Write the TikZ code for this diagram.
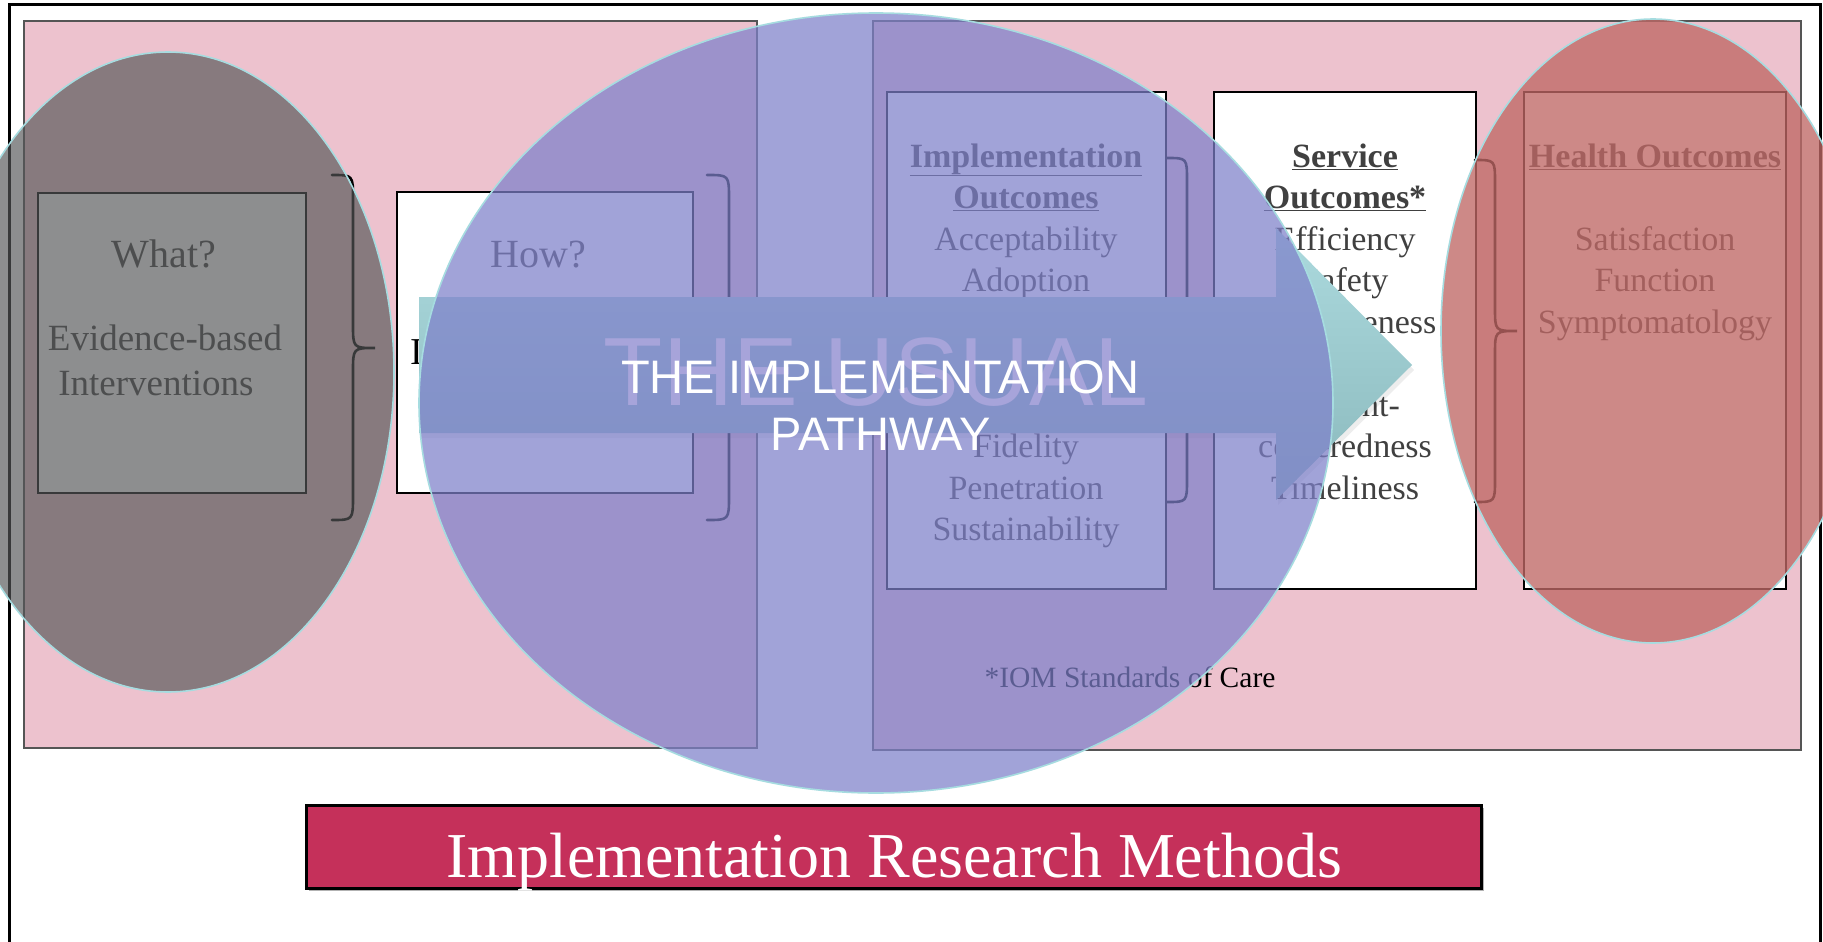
\documentclass[tikz,border=0pt]{standalone}
\usepackage{fontspec}
\setmainfont{Liberation Serif}
\newfontfamily\sansfnt{Liberation Sans}
\definecolor{pinkbg}{RGB}{237,194,206}
\definecolor{panelline}{RGB}{85,85,85}
\definecolor{grayell}{RGB}{84,86,87}
\definecolor{blueell}{RGB}{126,128,202}
\definecolor{redell}{RGB}{191,105,102}
\definecolor{ellline}{RGB}{166,220,224}
\definecolor{arrtop}{RGB}{172,218,222}
\definecolor{arrbot}{RGB}{138,184,188}
\definecolor{boxtext}{RGB}{64,64,64}
\definecolor{usualcol}{RGB}{167,164,218}
\definecolor{methodscol}{RGB}{197,48,90}
\newcommand{\fsz}[1]{\fontsize{#1pt}{#1pt}\selectfont}
\newcommand{\mybrace}[7]{%
  \draw[bracepath] (#1,#4) .. controls (#2,#4) .. (#2,#4+#7) -- (#2,#5-#7)
    .. controls (#2,#5) .. (#3,#5) .. controls (#2,#5) .. (#2,#5+#7)
    -- (#2,#6-#7) .. controls (#2,#6) .. (#1,#6);}
\begin{document}
\begin{tikzpicture}[x=1pt,y=-1pt,
  panel/.style={fill=pinkbg, draw=panelline, line width=1.2pt},
  outbox/.style={fill=white, draw=black, line width=2.6pt},
  bracepath/.style={draw=black, line width=2.6pt, line cap=round},
  btext/.style={anchor=base, inner sep=0pt, text=boxtext, font=\fsz{34}},
  ltext/.style={anchor=base, inner sep=0pt, text=boxtext, font=\fsz{37}},
  qtext/.style={anchor=base, inner sep=0pt, text=boxtext, font=\fsz{40}},
  ellstyle/.style={draw=ellline, line width=1.6pt, draw opacity=1},
]
\useasboundingbox (0,0) rectangle (1823,942);
\clip (0,0) rectangle (1823,942);
\fill[white] (0,0) rectangle (1823,942);

% outer frame
\draw[line width=3pt, black] (9,980) -- (9,5) -- (1820,5) -- (1820,980);

% pink panels
\draw[panel] (24,21) rectangle (757,748);
\draw[panel] (873,21) rectangle (1801,750);

% boxes
\draw[outbox] (38,193) rectangle (306,493);
\draw[outbox] (397,192) rectangle (693,493);
\draw[outbox] (887,92) rectangle (1166,589);
\draw[outbox] (1214,92) rectangle (1476,589);
\draw[outbox] (1524,92) rectangle (1786,589);

% braces
\mybrace{332}{353}{375}{175}{348}{520}{24}
\mybrace{707}{729}{750}{175}{347}{520}{24}
\mybrace{1167}{1187}{1208}{158}{330}{502}{23}
\mybrace{1475}{1495}{1517}{160}{331}{502}{23}

% left boxes text
\node[qtext] (what) at (164,267) {What?};
\node[ltext] (ebi1) at (165,350) {Evidence-based};
\node[ltext] (ebi2) at (156,395) {Interventions};
\node[qtext] (how) at (538,267) {How?};
\node[anchor=base west, inner sep=0pt, font=\fsz{38}] (howI) at (410,364) {I};

% implementation outcomes
\node[btext] (io0) at (1026,167) {\textbf{\underline{Implementation}}};
\node[btext] (io1) at (1026,208.5) {\textbf{\underline{Outcomes}}};
\node[btext] (io2) at (1026,250) {Acceptability};
\node[btext] (io3) at (1026,291.5) {Adoption};
\node[btext] (io7) at (1026,457.5) {Fidelity};
\node[btext] (io8) at (1026,499) {Penetration};
\node[btext] (io9) at (1026,540.5) {Sustainability};

% service outcomes
\node[btext] (so0) at (1345,167) {\textbf{\underline{Service}}};
\node[btext] (so1) at (1345,208.5) {\textbf{\underline{Outcomes*}}};
\node[btext] (so2) at (1345,250) {Efficiency};
\node[btext] (so3) at (1345,291.5) {Safety};
\node[btext] (so4) at (1345,333) {Effectiveness};
\node[btext] (so6) at (1347,416) {Patient-};
\node[btext] (so7) at (1345,457.5) {centeredness};
\node[btext] (so8) at (1345,499) {Timeliness};

% health outcomes
\node[btext] (ho0) at (1655,167) {\textbf{\underline{Health Outcomes}}};
\node[btext] (ho2) at (1655,250) {Satisfaction};
\node[btext] (ho3) at (1655,291.5) {Function};
\node[btext] (ho4) at (1655,333) {Symptomatology};

% IOM note
\node[anchor=base, inner sep=0pt, font=\fsz{29.5}] (iom) at (1130,687) {*IOM Standards of Care};

% arrow
\fill[black, opacity=0.07] (421,302) -- (1278,302) -- (1278,233) -- (1414,370) -- (1278,505) -- (1278,438) -- (421,438) -- cycle;
\shade[top color=arrtop, bottom color=arrbot] (419,297) -- (1276,297) -- (1276,228) -- (1412,365) -- (1276,500) -- (1276,433) -- (419,433) -- cycle;

% ellipses
\fill[grayell, fill opacity=0.667, ellstyle] (168,372) ellipse [x radius=226, y radius=320];
\fill[blueell, fill opacity=0.72, ellstyle] (876,403) ellipse [x radius=457, y radius=390];
\fill[redell, fill opacity=0.78, ellstyle] (1653,331) ellipse [x radius=212, y radius=312];

% arrow texts
\node[anchor=base, inner sep=0pt, text=usualcol, font=\sansfnt\fsz{97}] (usual) at (876,405) {THE USUAL};
\node[anchor=base, inner sep=0pt, text=white, font=\sansfnt\fsz{47}] (path1) at (880,393) {THE IMPLEMENTATION};
\node[anchor=base, inner sep=0pt, text=white, font=\sansfnt\fsz{47}] (path2) at (881,450) {PATHWAY};

% bottom box
\fill[gray!60] (309,808) rectangle (1484,891);
\draw[fill=methodscol, draw=black, line width=3pt] (306,805) rectangle (1481,888);
\node[anchor=base, inner sep=0pt, text=white, font=\fsz{64}] (methods) at (894,877) {Implementation Research Methods};
\end{tikzpicture}
\end{document}
